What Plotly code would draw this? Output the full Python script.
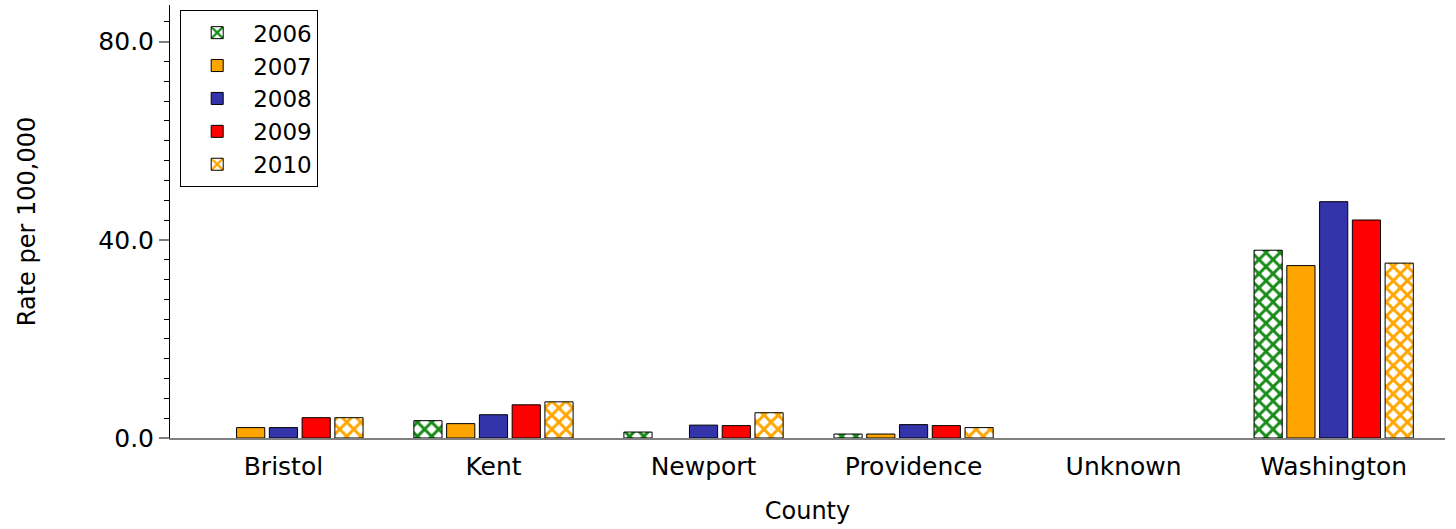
import plotly.graph_objects as go

counties = ["Bristol", "Kent", "Newport", "Providence", "Unknown", "Washington"]
years = ["2006", "2007", "2008", "2009", "2010"]

rate_2006 = [None, 3.5, 1.2, 0.8, None, 37.9]
rate_2007 = [2.1, 2.9, None, 0.8, None, 34.8]
rate_2008 = [2.1, 4.7, 2.6, 2.7, None, 47.7]
rate_2009 = [4.1, 6.7, 2.5, 2.5, None, 44.0]
rate_2010 = [4.1, 7.3, 5.1, 2.1, None, 35.3]

series = [rate_2006, rate_2007, rate_2008, rate_2009, rate_2010]
colors = ["#1a8c1a", "#ffa500", "#3333aa", "#ff0000", "#ffa500"]
hatched = [True, False, False, False, True]

FONT = "DejaVu Sans"

fig = go.Figure()
for year, vals, col, hatch in zip(years, series, colors, hatched):
    if hatch:
        marker = dict(
            color="white",
            line=dict(color="black", width=1),
            pattern=dict(shape="x", fgcolor=col, bgcolor="white",
                         size=10, solidity=0.5, fillmode="replace"),
        )
    else:
        marker = dict(color=col, line=dict(color="black", width=1))
    fig.add_trace(go.Bar(x=counties, y=vals, name=year, marker=marker))

fig.update_layout(
    width=1456,
    height=529,
    barmode="group",
    bargap=0.22,
    bargroupgap=0.14,
    plot_bgcolor="white",
    paper_bgcolor="white",
    margin=dict(l=170, r=11, t=5, b=91),
    font=dict(family=FONT, size=25, color="black"),
    legend=dict(
        x=0.008, y=0.988, xanchor="left", yanchor="top",
        bgcolor="white", bordercolor="black", borderwidth=1,
        font=dict(family=FONT, size=23, color="black"),
        tracegroupgap=0, itemwidth=62,
        entrywidth=105, entrywidthmode="pixels",
    ),
    xaxis=dict(
        title=dict(text="County", standoff=22, font=dict(size=24)),
        showline=True, linecolor="#808080", linewidth=2,
        ticks="outside", ticklen=5, tickcolor="rgba(0,0,0,0)",
        showgrid=False, zeroline=False,
        range=[-0.54, 5.53],
        tickfont=dict(size=25),
    ),
    yaxis=dict(
        title=dict(text="Rate per 100,000", standoff=55, font=dict(size=24)),
        range=[0, 87.4],
        tickvals=[0, 40, 80],
        ticktext=["0.0", "40.0", "80.0"],
        ticks="outside", ticklen=10, tickcolor="#808080", tickwidth=2,
        minor=dict(dtick=4, ticks="outside", ticklen=5, tickcolor="black", tickwidth=1),
        showline=True, linecolor="black", linewidth=1,
        showgrid=False, zeroline=False,
        tickfont=dict(size=25),
    ),
)

fig.write_html("out.html")
